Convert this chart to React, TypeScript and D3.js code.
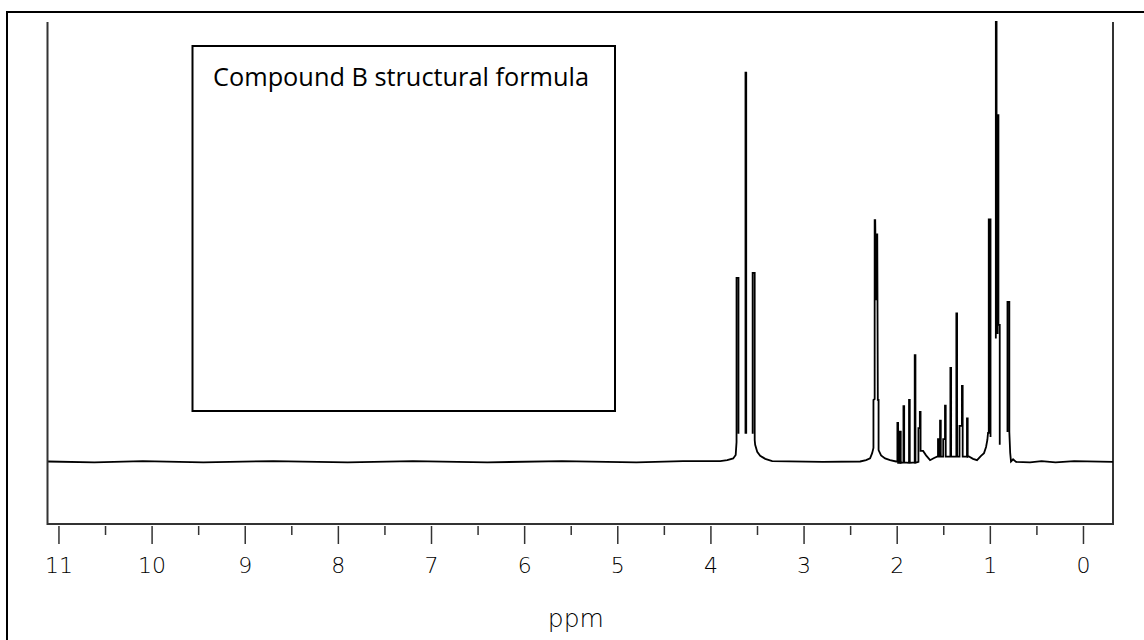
import React from "react";
import * as d3 from "d3";

// ---------- data ----------
const majorTicks: number[] = [11, 10, 9, 8, 7, 6, 5, 4, 3, 2, 1, 0];
const minorTicks: number[] = [10.5, 9.5, 8.5, 7.5, 6.5, 5.5, 4.5, 3.5, 2.5, 1.5, 0.5];
const axisLabel = "ppm";
const insetLabel = "Compound B structural formula";

// Spectrum trace pieces: [ppm, relative intensity (tallest line = 100)]
const baselineToEster: [number, number][] = [
  [11.116, 0], [10.62, -0.2], [10.1, 0.1], [9.45, -0.2], [8.7, 0.1], [7.9, -0.2],
  [7.2, 0.1], [6.4, -0.2], [5.6, 0.1], [4.8, -0.2], [4.3, 0.1], [3.9, 0.1],
  [3.825, 0.3], [3.761, 0.7], [3.734, 1.5], [3.725, 4.4],
  [3.725, 41.8], [3.704, 41.8], [3.704, 6.3],
];
const esterCentre: [number, number][] = [
  [3.629, 6.3], [3.629, 88.5], [3.621, 88.5], [3.621, 6.3],
];
const esterToMethyl: [number, number][] = [
  [3.552, 6.3], [3.552, 42.9], [3.530, 42.9], [3.530, 4.9],
  [3.525, 3.8], [3.503, 2.2], [3.471, 1.3], [3.417, 0.6], [3.342, 0.1],
  [2.8, -0.1], [2.398, 0], [2.334, 0.3], [2.291, 0.7], [2.269, 1.9], [2.255, 3.1],
  [2.255, 14.0], [2.242, 14.2], [2.242, 54.9], [2.236, 54.9], [2.226, 36.7],
  [2.221, 51.7], [2.214, 51.7], [2.208, 14.0], [2.2, 14.0], [2.2, 2.6],
  [2.173, 1.4], [2.13, 0.7], [2.076, 0.3], [2.012, 0],
  [1.998, 0], [1.998, 8.8], [1.99, 8.8], [1.99, -0.3],
  [1.973, -0.3], [1.973, 6.8], [1.962, 6.8], [1.962, -0.3],
  [1.933, -0.2], [1.933, 12.6], [1.925, 12.6], [1.925, -0.2],
  [1.873, -0.3], [1.873, 14.0], [1.865, 14.0], [1.865, -0.3],
  [1.812, -0.2], [1.812, 24.2], [1.804, 24.2], [1.804, -0.3],
  [1.772, -0.1], [1.772, 7.6], [1.757, 7.6], [1.757, 11.3], [1.749, 11.3], [1.749, 2.4],
  [1.738, 2.4], [1.722, 2.4], [1.69, 1.4], [1.647, 0.3], [1.604, 0.8], [1.572, 1.1],
  [1.562, 1.1], [1.562, 5.1], [1.554, 5.1], [1.554, 1.1],
  [1.54, 1.1], [1.54, 9.3], [1.532, 9.3], [1.532, 1.1],
  [1.506, 1.1], [1.506, 5.1], [1.487, 5.1], [1.487, 12.7], [1.479, 12.7], [1.479, 1.1],
  [1.429, 1.1], [1.429, 21.3], [1.421, 21.3], [1.421, 1.1],
  [1.365, 1.1], [1.365, 33.7], [1.357, 33.7], [1.357, 1.1],
  [1.331, 1.1], [1.331, 8.1], [1.305, 8.1], [1.305, 17.2], [1.297, 17.2], [1.297, 1.1],
  [1.251, 1.1], [1.251, 9.8], [1.243, 9.8], [1.243, 1.1],
  [1.234, 1.2], [1.186, 0.6], [1.143, 0.3], [1.1, 1.3], [1.068, 1.9], [1.046, 3.3],
  [1.032, 4.9], [1.025, 6.5],
  [1.017, 6.5], [1.017, 55.1], [0.998, 55.1], [0.998, 5.6],
];
const methylTriplet: [number, number][] = [
  [0.941, 28], [0.941, 100], [0.933, 100], [0.933, 29.2],
  [0.922, 29.2], [0.922, 78.8], [0.913, 78.8], [0.913, 31.1],
  [0.899, 31.1], [0.899, 3.8],
];
const methylToEnd: [number, number][] = [
  [0.816, 6.7], [0.816, 36.3], [0.796, 36.3], [0.796, 6.7],
  [0.787, 2.0], [0.778, 0], [0.756, 0.5], [0.724, -0.1],
  [0.574, -0.2], [0.45, 0.1], [0.3, -0.2], [0.1, 0.1], [-0.317, -0.1],
];

const spectrumPieces: [number, number][][] = [
  baselineToEster, esterCentre, esterToMethyl, methylTriplet, methylToEnd,
];

// ---------- component ----------
export default function App() {
  const W = 1144, H = 640;
  const x = d3.scaleLinear().domain([11.123, -0.317]).range([47.5, 1113]);
  const y = d3.scaleLinear().domain([-14.22, 100]).range([524, 22]);
  const line = d3.line<[number, number]>().x((d) => x(d[0])).y((d) => y(d[1]));
  const axisY = y(-14.22);
  const topY = y(100);

  const tickFont = "'DejaVu Sans', sans-serif";

  return (
    <svg width={W} height={H} style={{ position: "absolute", left: 0, top: 0, background: "#fff" }}>
      {/* outer frame */}
      <path d={`M7,${H + 10} V12 H${W + 10}`} fill="none" stroke="#000" strokeWidth={2} />

      {/* axes frame */}
      <path
        d={`M${x(11.123)},${topY} V${axisY} H${x(-0.317)} V${topY}`}
        fill="none"
        stroke="#333"
        strokeWidth={2}
      />

      {/* ticks */}
      {majorTicks.map((t) => (
        <g key={"M" + t}>
          <line x1={x(t)} x2={x(t)} y1={axisY + 2} y2={axisY + 20} stroke="#333" strokeWidth={1.5} />
          <text
            x={x(t)}
            y={axisY + 49}
            textAnchor="middle"
            fontFamily={tickFont}
            fontSize={22}
            fontWeight={300}
            fill="#000"
          >
            {String(t)}
          </text>
        </g>
      ))}
      {minorTicks.map((t) => (
        <line key={"m" + t} x1={x(t)} x2={x(t)} y1={axisY + 2} y2={axisY + 11} stroke="#333" strokeWidth={1.5} />
      ))}
      <text
        x={x(5.45)}
        y={axisY + 103}
        textAnchor="middle"
        fontFamily={tickFont}
        fontSize={25}
        fontWeight={300}
        fill="#000"
      >
        {axisLabel}
      </text>

      {/* spectrum */}
      {spectrumPieces.map((piece, i) => (
        <path key={i} d={line(piece) || ""} fill="none" stroke="#000" strokeWidth={1.8} strokeLinejoin="miter" />
      ))}

      {/* structure box */}
      <rect x={192.5} y={46} width={422.5} height={365} fill="#fff" stroke="#000" strokeWidth={2} />
      <text
        x={401}
        y={86}
        textAnchor="middle"
        fontFamily="'Open Sans', 'Noto Sans', sans-serif"
        fontSize={25}
        textLength={376}
        lengthAdjust="spacingAndGlyphs"
        fill="#000"
      >
        {insetLabel}
      </text>
    </svg>
  );
}
